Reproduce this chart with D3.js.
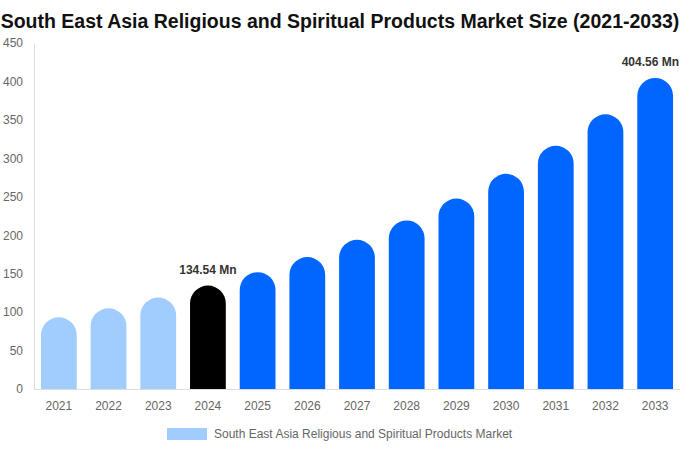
<!DOCTYPE html>
<html>
<head>
<meta charset="utf-8">
<script src="https://cdn.jsdelivr.net/npm/d3@7"></script>
<style>
  html, body { margin: 0; padding: 0; background: #fff; }
  svg { display: block; font-family: "Liberation Sans", Arial, sans-serif; }
</style>
</head>
<body>
<svg id="chart" width="680" height="450"></svg>
<script>
const titleText = "South East Asia Religious and Spiritual Products Market Size (2021-2033)";
const seriesName = "South East Asia Religious and Spiritual Products Market";
const years = ["2021","2022","2023","2024","2025","2026","2027","2028","2029","2030","2031","2032","2033"];
const values = [93.2, 105.0, 119.0, 134.54, 152.0, 171.6, 194.0, 219.2, 247.7, 279.8, 316.3, 357.3, 404.56];
const yTicks = [0, 50, 100, 150, 200, 250, 300, 350, 400, 450];
const annotated = { "2024": "134.54 Mn", "2033": "404.56 Mn" };

const colorPast = "#a0cdfd";
const colorBase = "#000000";
const colorForecast = "#0066ff";

const svg = d3.select("#chart");
const W = 680, H = 450;
const margin = { top: 43, right: 0, bottom: 61, left: 34 };
const plotBottom = H - margin.bottom;

const x = d3.scaleBand().domain(years).range([margin.left, W - margin.right]).paddingInner(0.28).paddingOuter(0.14);
const y = d3.scaleLinear().domain([0, 450]).range([plotBottom, margin.top]);

// Title
svg.append("text")
  .attr("x", W / 2).attr("y", 28)
  .attr("text-anchor", "middle")
  .attr("font-size", 19.5).attr("font-weight", "bold").attr("fill", "#111")
  .text(titleText);

// Y axis
const yAxis = svg.append("g").attr("transform", `translate(${margin.left},0)`)
  .call(d3.axisLeft(y).tickValues(yTicks).tickSize(0).tickPadding(11));
yAxis.select(".domain").attr("stroke", "#ddd");
yAxis.selectAll("text").attr("font-size", 12).attr("fill", "#666").attr("font-family", "Liberation Sans, Arial, sans-serif");

// X axis
const xAxis = svg.append("g").attr("transform", `translate(0,${plotBottom})`)
  .call(d3.axisBottom(x).tickSize(0).tickPadding(12));
xAxis.select(".domain").attr("stroke", "#ddd").attr("d", `M${margin.left},0.5H${W}`);
xAxis.selectAll("text").attr("font-size", 12).attr("fill", "#666").attr("font-family", "Liberation Sans, Arial, sans-serif");

function colorFor(yr) {
  const v = +yr;
  if (v < 2024) return colorPast;
  if (v === 2024) return colorBase;
  return colorForecast;
}

function barPath(x0, w, yTop, yBot) {
  const r = Math.min(w / 2, yBot - yTop);
  return `M${x0},${yBot}V${yTop + r}A${r},${r} 0 0 1 ${x0 + w},${yTop + r}V${yBot}Z`;
}

svg.append("g").selectAll("path")
  .data(years)
  .join("path")
  .attr("d", (d, i) => barPath(x(d), x.bandwidth(), y(values[i]), y(0)))
  .attr("fill", d => colorFor(d));

// Annotations (kept inside the picture)
svg.append("g").selectAll("text")
  .data(years.filter(d => annotated[d]))
  .join("text")
  .attr("x", d => x(d) + x.bandwidth() / 2)
  .attr("y", d => y(values[years.indexOf(d)]) - 12)
  .attr("text-anchor", "middle")
  .attr("font-size", 12).attr("font-weight", "bold").attr("fill", "#333")
  .text(d => annotated[d])
  .each(function() {
    const b = this.getBBox();
    const over = b.x + b.width - (W - 1);
    if (over > 0) d3.select(this).attr("x", +d3.select(this).attr("x") - over);
  });

// Legend
const lg = svg.append("g");
lg.append("rect").attr("x", 167).attr("y", 428).attr("width", 40).attr("height", 12).attr("fill", colorPast);
lg.append("text").attr("x", 214).attr("y", 438).attr("font-size", 12).attr("fill", "#666")
  .text(seriesName);
</script>
</body>
</html>
